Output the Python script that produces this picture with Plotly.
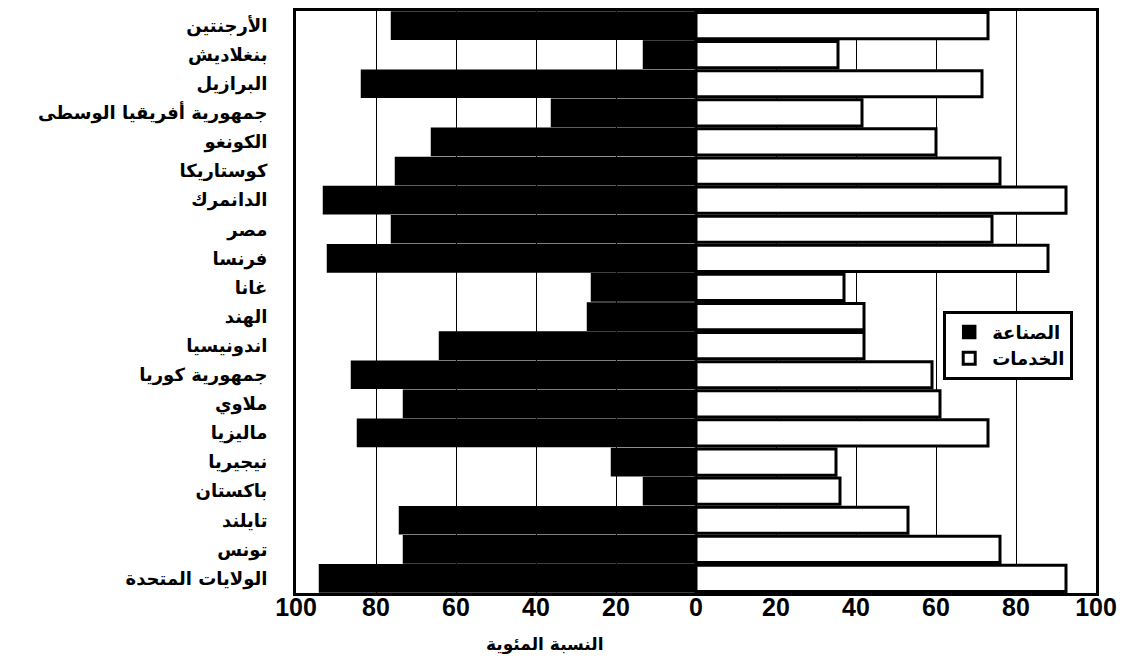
import plotly.graph_objects as go

countries = ["الأرجنتين", "بنغلاديش", "البرازيل", "جمهورية أفريقيا الوسطى", "الكونغو",
             "كوستاريكا", "الدانمرك", "مصر", "فرنسا", "غانا", "الهند", "اندونيسيا",
             "جمهورية كوريا", "ملاوي", "ماليزيا", "نيجيريا", "باكستان", "تايلند",
             "تونس", "الولايات المتحدة"]
industry = [76, 13, 83.5, 36, 66, 75, 93, 76, 92, 26, 27, 64, 86, 73, 84.5, 21, 13, 74, 73, 94]
services = [73, 35.5, 71.5, 41.5, 60, 76, 92.5, 74, 88, 37, 42, 42, 59, 61, 73, 35, 36, 53, 76, 92.5]
tick_vals = [-100, -80, -60, -40, -20, 0, 20, 40, 60, 80, 100]
tick_text = ["100", "80", "60", "40", "20", "0", "20", "40", "60", "80", "100"]
name_industry = "الصناعة"
name_services = "الخدمات"
x_title = "النسبة المئوية"

fig = go.Figure()
fig.add_trace(go.Bar(
    y=countries, x=[-v for v in industry], orientation="h", name=name_industry,
    legendgroup="a",
    customdata=industry, hovertemplate="%{y}: %{customdata}%<extra></extra>",
    marker=dict(color="black", line=dict(color="black", width=2.5)),
))
fig.add_trace(go.Bar(
    y=countries, x=services, orientation="h", name=name_services,
    legendgroup="b",
    hovertemplate="%{y}: %{x}%<extra></extra>",
    marker=dict(color="white", line=dict(color="black", width=3)),
))

fig.update_layout(
    width=1138, height=667,
    barmode="relative", bargap=0.1,
    paper_bgcolor="white", plot_bgcolor="white",
    margin=dict(l=288, r=50, t=0, b=82),
    font=dict(family="DejaVu Sans", color="black"),
    legend=dict(
        x=0.809, y=0.485, xanchor="left", yanchor="top",
        bgcolor="white", bordercolor="black", borderwidth=3,
        font=dict(family="DejaVu Sans", size=18, weight="bold", color="black"),
        traceorder="normal", tracegroupgap=5, itemwidth=36,
    ),
    xaxis=dict(
        range=[-100, 100], tickvals=tick_vals, ticktext=tick_text,
        showgrid=True, gridcolor="black", gridwidth=1, zeroline=False,
        showline=True, linecolor="black", linewidth=3, mirror=True,
        ticks="", ticklabelstandoff=-10,
        tickfont=dict(family="Liberation Sans", size=25, weight="bold", color="black"),
        fixedrange=True,
    ),
    yaxis=dict(
        autorange="reversed", showgrid=False, zeroline=False,
        showline=True, linecolor="black", linewidth=3, mirror=True,
        ticks="", ticklabelstandoff=22,
        tickfont=dict(family="DejaVu Sans", size=18, weight="bold", color="black"),
    ),
    annotations=[dict(
        text=x_title, xref="paper", yref="paper", x=0.311, y=-0.089,
        showarrow=False, xanchor="center", yanchor="middle",
        font=dict(family="DejaVu Sans", size=17, weight="bold", color="black"),
    )],
)

fig.write_html("out.html")
